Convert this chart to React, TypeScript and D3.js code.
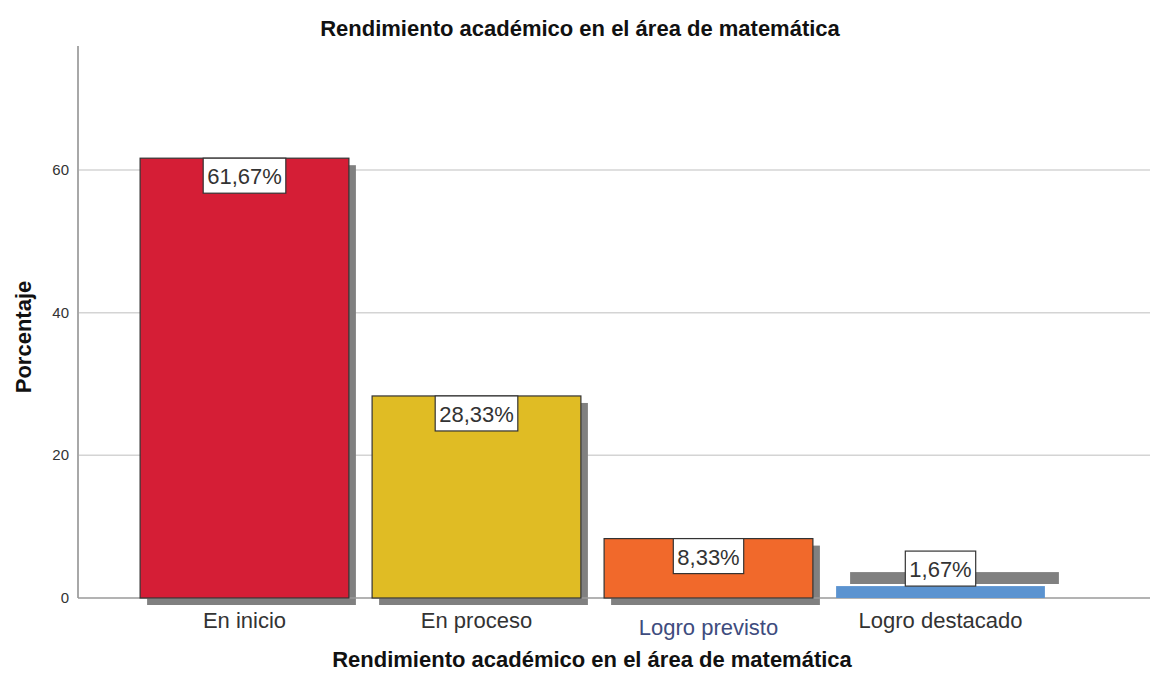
import { useEffect, useRef } from "react";
import * as d3 from "d3";

// Data
const categories = ["En inicio", "En proceso", "Logro previsto", "Logro destacado"];
const percents = [61.67, 28.33, 8.33, 1.67];
const valueLabels = ["61,67%", "28,33%", "8,33%", "1,67%"];
const yTicks = [0, 20, 40, 60];

const barColors = ["#d51e36", "#e0bc24", "#f1692b", "#5b93d0"];
const barStrokes = ["#333", "#333", "#333", "none"];
// shadow offsets (the last one is drawn oddly in the original)
const shadowOffsets = [
  [7, 7],
  [7, 7],
  [7, 7],
  [14, -14],
];
const labelColors = ["#333", "#333", "#3e4c7e", "#333"];
const labelDy = [0, 0, 7, 0];

const TITLE = "Rendimiento académico en el área de matemática";

function App() {
  const ref = useRef<SVGSVGElement>(null);

  useEffect(() => {
    document.body.style.margin = "0";
    const svg = d3.select(ref.current);
    const W = 1150;
    const H = 675;
    const left = 78;
    const baseY = 598;

    svg.attr("width", W).attr("height", H).style("font-family", "Liberation Sans, Arial, sans-serif");

    const x = d3
      .scaleBand()
      .domain(categories)
      .range([128.5, 1056.5])
      .paddingInner(0.1)
      .paddingOuter(0.05);

    const y = d3.scaleLinear().domain([0, 77.4]).range([baseY, 46]);

    // gridlines
    svg
      .append("g")
      .selectAll("line")
      .data(yTicks.filter((t) => t > 0))
      .enter()
      .append("line")
      .attr("x1", left)
      .attr("x2", W)
      .attr("y1", (d) => y(d))
      .attr("y2", (d) => y(d))
      .attr("stroke", "#d4d4d4")
      .attr("stroke-width", 1.5);

    // y axis line
    svg
      .append("line")
      .attr("x1", left)
      .attr("x2", left)
      .attr("y1", y(77.4))
      .attr("y2", baseY)
      .attr("stroke", "#a8a8a8")
      .attr("stroke-width", 2);

    // tick labels
    svg
      .append("g")
      .selectAll("text")
      .data(yTicks)
      .enter()
      .append("text")
      .attr("x", 69)
      .attr("y", (d) => y(d) + 5)
      .attr("text-anchor", "end")
      .attr("font-size", 15)
      .attr("fill", "#333")
      .text((d) => d);

    const data = categories.map((c, i) => ({ c, v: percents[i], i }));

    // shadows
    svg
      .append("g")
      .selectAll("rect")
      .data(data)
      .enter()
      .append("rect")
      .attr("x", (d) => x(d.c)! + shadowOffsets[d.i][0])
      .attr("y", (d) => y(d.v) + shadowOffsets[d.i][1])
      .attr("width", x.bandwidth())
      .attr("height", (d) => baseY - y(d.v))
      .attr("fill", "#808080");

    // baseline
    svg
      .append("line")
      .attr("x1", left)
      .attr("x2", W)
      .attr("y1", baseY)
      .attr("y2", baseY)
      .attr("stroke", "#9a9a9a")
      .attr("stroke-width", 1.5);

    // bars
    svg
      .append("g")
      .selectAll("rect")
      .data(data)
      .enter()
      .append("rect")
      .attr("x", (d) => x(d.c)!)
      .attr("y", (d) => y(d.v))
      .attr("width", x.bandwidth())
      .attr("height", (d) => baseY - y(d.v))
      .attr("fill", (d) => barColors[d.i])
      .attr("stroke", (d) => barStrokes[d.i])
      .attr("stroke-width", 1.2);

    // value labels
    const boxH = 35;
    const lab = svg.append("g").selectAll("g").data(data).enter().append("g");
    lab.each(function (d) {
      const g = d3.select(this);
      const cx = x(d.c)! + x.bandwidth() / 2;
      const barTop = y(d.v);
      const top = baseY - barTop < boxH ? barTop - boxH : barTop;
      const t = g
        .append("text")
        .attr("x", cx)
        .attr("y", top + 26)
        .attr("text-anchor", "middle")
        .attr("font-size", 22)
        .attr("fill", "#333")
        .text(valueLabels[d.i]);
      const w = (t.node() as SVGTextElement).getComputedTextLength() + 8;
      g.insert("rect", "text")
        .attr("x", cx - w / 2)
        .attr("y", top)
        .attr("width", w)
        .attr("height", boxH)
        .attr("fill", "#fff")
        .attr("stroke", "#333")
        .attr("stroke-width", 1.2);
    });

    // category labels
    svg
      .append("g")
      .selectAll("text")
      .data(data)
      .enter()
      .append("text")
      .attr("x", (d) => x(d.c)! + x.bandwidth() / 2)
      .attr("y", (d) => 628 + labelDy[d.i])
      .attr("text-anchor", "middle")
      .attr("font-size", 22)
      .attr("fill", (d) => labelColors[d.i])
      .text((d) => d.c);

    // titles
    svg
      .append("text")
      .attr("x", 580)
      .attr("y", 36)
      .attr("text-anchor", "middle")
      .attr("font-size", 22)
      .attr("font-weight", "bold")
      .attr("fill", "#111")
      .text(TITLE);

    svg
      .append("text")
      .attr("x", 592)
      .attr("y", 667)
      .attr("text-anchor", "middle")
      .attr("font-size", 22)
      .attr("font-weight", "bold")
      .attr("fill", "#111")
      .text(TITLE);

    svg
      .append("text")
      .attr("transform", "translate(31, 337) rotate(-90)")
      .attr("text-anchor", "middle")
      .attr("font-size", 22)
      .attr("font-weight", "bold")
      .attr("fill", "#111")
      .text("Porcentaje");

    return () => {
      svg.selectAll("*").remove();
    };
  }, []);

  return <svg ref={ref} style={{ display: "block" }} />;
}

export default App;
